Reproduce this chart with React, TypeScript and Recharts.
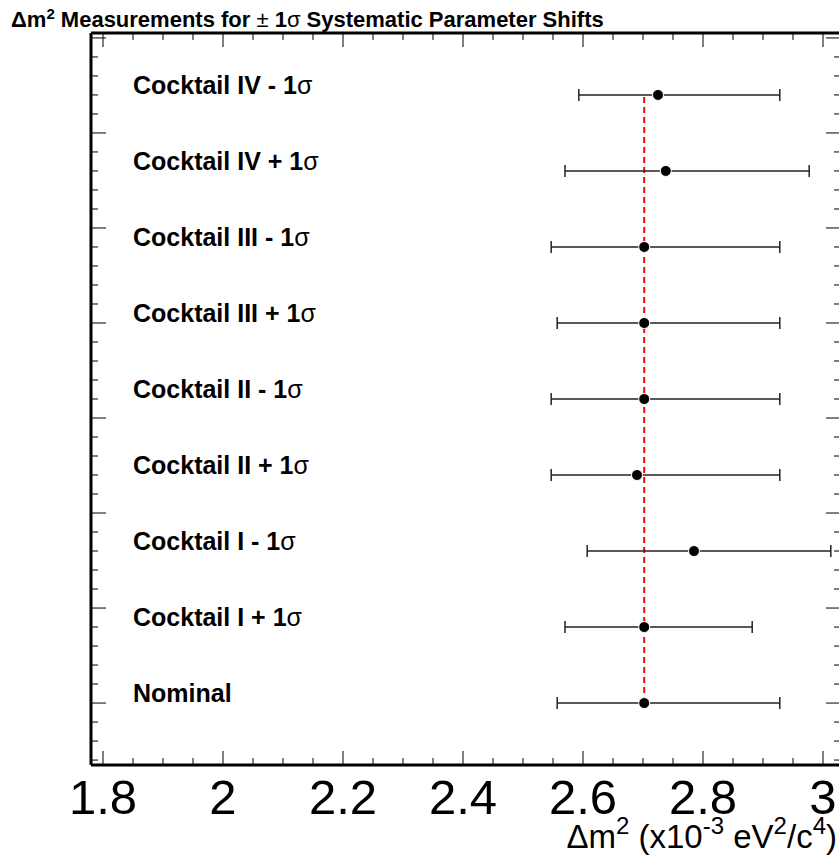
import React from 'react';
import { ScatterChart, Scatter, XAxis, YAxis, ErrorBar, ReferenceLine } from 'recharts';

// rows, bottom to top
const NAMES = [
  'Nominal',
  'Cocktail I + 1',
  'Cocktail I - 1',
  'Cocktail II + 1',
  'Cocktail II - 1',
  'Cocktail III + 1',
  'Cocktail III - 1',
  'Cocktail IV + 1',
  'Cocktail IV - 1',
];
const ROW_Y = [0, 4, 8, 12, 16, 20, 24, 28, 32];
const CENTRAL = [2.702, 2.702, 2.785, 2.690, 2.702, 2.702, 2.702, 2.738, 2.725];
const LOW = [2.557, 2.570, 2.607, 2.547, 2.547, 2.557, 2.547, 2.570, 2.593];
const HIGH = [2.928, 2.882, 3.013, 2.928, 2.928, 2.928, 2.928, 2.977, 2.928];

const NOMINAL_X = 2.702;
const LABEL_X = 1.85;

const X_MAJOR = [1.8, 2.0, 2.2, 2.4, 2.6, 2.8, 3.0];
const X_LABELS = ['1.8', '2', '2.2', '2.4', '2.6', '2.8', '3'];
const X_DOMAIN = [1.78, 3.03];
const Y_DOMAIN = [-3.26, 35.26];

const FONT = '"Liberation Sans", Arial, Helvetica, sans-serif';

const points = NAMES.map((n, i) => ({
  name: n,
  x: CENTRAL[i],
  y: ROW_Y[i],
  err: [CENTRAL[i] - LOW[i], HIGH[i] - CENTRAL[i]],
}));
const labels = NAMES.map((n, i) => ({ name: n, x: LABEL_X, y: ROW_Y[i] }));

const xTicks: number[] = [];
for (let i = 0; i <= 24; i++) xTicks.push(Math.round((1.8 + i * 0.05) * 1000) / 1000);
const yTicks: number[] = [];
for (let v = -3; v <= 35; v++) yTicks.push(v);

const isMajorX = (v: number) => Math.abs(v * 5 - Math.round(v * 5)) < 1e-6;
const isMajorY = (v: number) => v % 5 === 0;
const MAJ = 14;
const MIN = 7;

const BottomTick = ({ x, y, payload }: any) => {
  const v = payload.value;
  const major = isMajorX(v);
  const idx = X_MAJOR.findIndex((m) => Math.abs(m - v) < 1e-6);
  return (
    <g>
      <line x1={x} x2={x} y1={y} y2={y - (major ? MAJ : MIN)} stroke="#000" strokeWidth={1} />
      {idx >= 0 && (
        <text x={x} y={y + 49} textAnchor="middle" fontSize={49} fontFamily={FONT} fill="#000">
          {X_LABELS[idx]}
        </text>
      )}
    </g>
  );
};

const TopTick = ({ x, y, payload }: any) => {
  const major = isMajorX(payload.value);
  return <line x1={x} x2={x} y1={y} y2={y + (major ? MAJ : MIN)} stroke="#000" strokeWidth={1} />;
};

const LeftTick = ({ x, y, payload }: any) => {
  const major = isMajorY(payload.value);
  return <line x1={x} x2={x + (major ? MAJ + 1 : MIN)} y1={y} y2={y} stroke="#000" strokeWidth={1} />;
};

const RightTick = ({ x, y, payload }: any) => {
  const major = isMajorY(payload.value);
  return <line x1={x} x2={x - (major ? MAJ + 1 : MIN)} y1={y} y2={y} stroke="#000" strokeWidth={1} />;
};

const TitleLabel = () => (
  <text x={11} y={27} fontSize={22} fontFamily={FONT} fontWeight="bold" fill="#000">
    <tspan>Δm</tspan>
    <tspan fontSize={15} dy={-8}>2</tspan>
    <tspan dy={8}> Measurements for </tspan>
    <tspan fontWeight="normal">±</tspan>
    <tspan> 1</tspan>
    <tspan fontWeight="normal">σ</tspan>
    <tspan> Systematic Parameter Shifts</tspan>
  </text>
);

const AxisTitle = () => (
  <text x={837} y={848} textAnchor="end" fontSize={33} fontFamily={FONT} fill="#000">
    <tspan>Δm</tspan>
    <tspan fontSize={24} dy={-14}>2</tspan>
    <tspan dy={14}> (x10</tspan>
    <tspan fontSize={24} dy={-14}>-3</tspan>
    <tspan dy={14}> eV</tspan>
    <tspan fontSize={24} dy={-14}>2</tspan>
    <tspan dy={14}>/c</tspan>
    <tspan fontSize={24} dy={-14}>4</tspan>
    <tspan dy={14}>)</tspan>
  </text>
);

const Dot = ({ cx, cy }: any) => <circle cx={cx} cy={cy} r={5.5} fill="#000" stroke="#fff" strokeWidth={1} />;

const RowLabel = ({ cx, cy, payload }: any) => (
  <text x={cx} y={cy - 1} fontSize={25} fontFamily={FONT} fontWeight="bold" fill="#000">
    {payload.name === 'Nominal' ? (
      'Nominal'
    ) : (
      <>
        {payload.name}
        <tspan fontWeight="normal">σ</tspan>
      </>
    )}
  </text>
);

export default function App() {
  return (
    <div style={{ position: 'fixed', left: 0, top: 0, width: 839, height: 863, overflow: 'hidden', background: '#fff' }}>
      <ScatterChart width={839} height={863} margin={{ top: 32, left: 90, right: -3, bottom: 97 }}>
        <XAxis
          xAxisId="b"
          type="number"
          dataKey="x"
          domain={X_DOMAIN}
          allowDataOverflow
          ticks={xTicks}
          interval={0}
          height={1}
          tickSize={0}
          tickMargin={0}
          tick={<BottomTick />}
          tickLine={false}
          axisLine={{ stroke: '#000', strokeWidth: 3 }}
          label={{ content: AxisTitle }}
        />
        <XAxis
          xAxisId="t"
          orientation="top"
          type="number"
          dataKey="x"
          domain={X_DOMAIN}
          allowDataOverflow
          ticks={xTicks}
          interval={0}
          height={1}
          tickSize={0}
          tickMargin={0}
          tick={<TopTick />}
          tickLine={false}
          axisLine={{ stroke: '#000', strokeWidth: 3 }}
          label={{ content: TitleLabel }}
        />
        <YAxis
          yAxisId="l"
          type="number"
          dataKey="y"
          domain={Y_DOMAIN}
          allowDataOverflow
          ticks={yTicks}
          interval={0}
          width={1}
          tickSize={0}
          tickMargin={0}
          tick={<LeftTick />}
          tickLine={false}
          axisLine={{ stroke: '#000', strokeWidth: 3 }}
        />
        <YAxis
          yAxisId="r"
          orientation="right"
          type="number"
          dataKey="y"
          domain={Y_DOMAIN}
          allowDataOverflow
          ticks={yTicks}
          interval={0}
          width={1}
          tickSize={0}
          tickMargin={0}
          tick={<RightTick />}
          tickLine={false}
          axisLine={{ stroke: '#000', strokeWidth: 3 }}
        />
        <ReferenceLine
          xAxisId="b"
          yAxisId="l"
          segment={[
            { x: NOMINAL_X, y: ROW_Y[0] },
            { x: NOMINAL_X, y: ROW_Y[ROW_Y.length - 1] },
          ]}
          stroke="#ff0000"
          strokeWidth={2}
          strokeDasharray="6 4"
        />
        <Scatter xAxisId="b" yAxisId="l" data={labels} shape={<RowLabel />} isAnimationActive={false} />
        <Scatter xAxisId="b" yAxisId="l" data={points} shape={<Dot />} isAnimationActive={false}>
          <ErrorBar dataKey="err" direction="x" width={6} stroke="#222" strokeWidth={1.5} />
        </Scatter>
      </ScatterChart>
    </div>
  );
}
